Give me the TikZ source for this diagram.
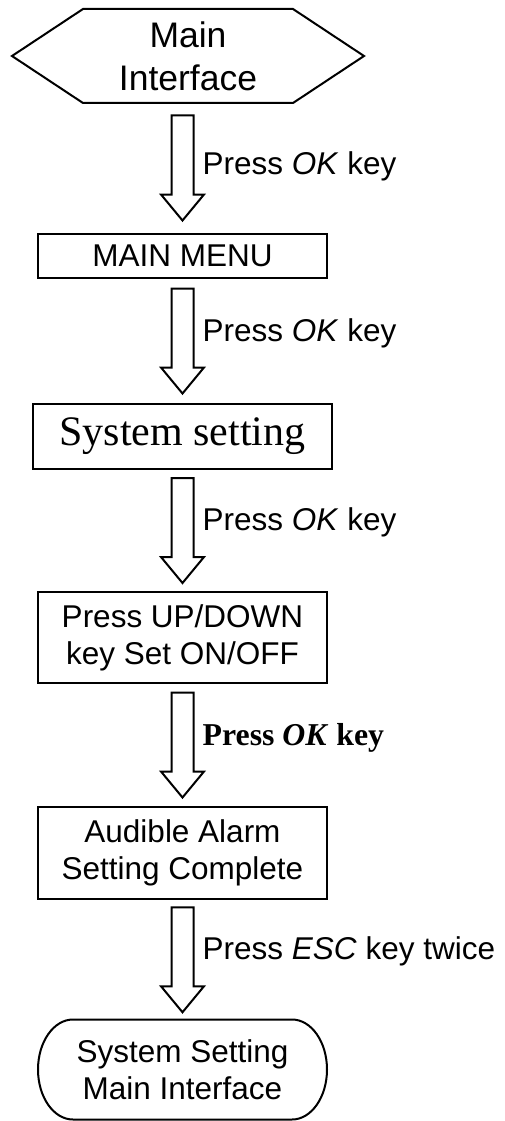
\documentclass[tikz,border=0pt]{standalone}
\usepackage{fontspec}
\setmainfont{Liberation Sans}
\newfontfamily\serifface{Liberation Serif}
\usetikzlibrary{calc}

\tikzset{
	box/.style = {draw, line width=2pt, minimum width=289, align=center, inner sep=0pt, font=\fontsize{31.5}{37}\selectfont},
	blk/.style = {draw, line width=2pt, to path={
		let \p2=(\tikztotarget), \p3=($(\tikztostart)!0.5!(\tikztotarget)$) in
		(\x2-11pt,\y3+52.5pt) -- (\x2+11pt,\y3+52.5pt) -- (\x2+11pt,\y3-26.5pt) -- (\x2+21.5pt,\y3-26.5pt)
		-- (\x2,\y3-52.5pt) -- (\x2-21.5pt,\y3-26.5pt) -- (\x2-11pt,\y3-26.5pt) -- cycle}},
	lbl/.style = {anchor=base west, inner sep=0pt, xshift=20, font=\fontsize{31.5}{37}\selectfont}
}

\begin{document}
\begin{tikzpicture}[x=1pt, y=1pt]
	\useasboundingbox (0,0) rectangle (504,-1121);

	% steps
	\node[minimum width=210, minimum height=94, align=center, inner sep=0pt, outer sep=0pt, font=\fontsize{35.5}{42.7}\selectfont] (mi) at (188,-56) {Main\\Interface};
	\draw[line width=2pt] (mi.north west) -- (mi.north east) -- ($(mi.east)+(71,0)$) -- (mi.south east) -- (mi.south west) -- ($(mi.west)+(-71,0)$) -- cycle;
	\node[box, minimum height=44] (mm) at (182.5,-256) {MAIN MENU};
	\node[box, minimum width=299, minimum height=65, font=\serifface\fontsize{42}{48}\selectfont] (ss) at (182.5,-436.5) {System setting};
	\node[box, minimum height=91] (ud) at (182.5,-637.5) {Press UP/DOWN\\key Set ON/OFF};
	\node[box, minimum height=92] (ac) at (182.5,-853) {Audible Alarm\\Setting Complete};
	\node[box, draw=none, outer sep=0pt, minimum height=100] (se) at (182.5,-1069.5) {System Setting\\Main Interface};
	\draw[line width=2pt] ($(se.north west)+(35,0)$) -- ($(se.north east)+(-35,0)$) arc[start angle=90, end angle=-90, x radius=35, y radius=50]
		-- ($(se.south west)+(35,0)$) arc[start angle=270, end angle=90, x radius=35, y radius=50] -- cycle;

	% arrows
	\draw[blk] (mi.south) to (mm.north);
	\node[lbl, yshift=-6] (l1) at ($(mi.south -| mm.north)!0.5!(mm.north)$) {Press \textit{OK} key};
	\draw[blk] (mm.south) to (ss.north);
	\node[lbl] (l2) at ($(mm.south)!0.5!(ss.north)$) {Press \textit{OK} key};
	\draw[blk] (ss.south) to (ud.north);
	\node[lbl] (l3) at ($(ss.south)!0.5!(ud.north)$) {Press \textit{OK} key};
	\draw[blk] (ud.south) to (ac.north);
	\node[lbl, font=\serifface\bfseries\fontsize{31.8}{36}\selectfont] (l4) at ($(ud.south)!0.5!(ac.north)$) {Press \textit{OK} key};
	\draw[blk] (ac.south) to (se.north);
	\node[lbl] (l5) at ($(ac.south)!0.5!(se.north)$) {Press \textit{ESC} key twice};
\end{tikzpicture}
\end{document}
